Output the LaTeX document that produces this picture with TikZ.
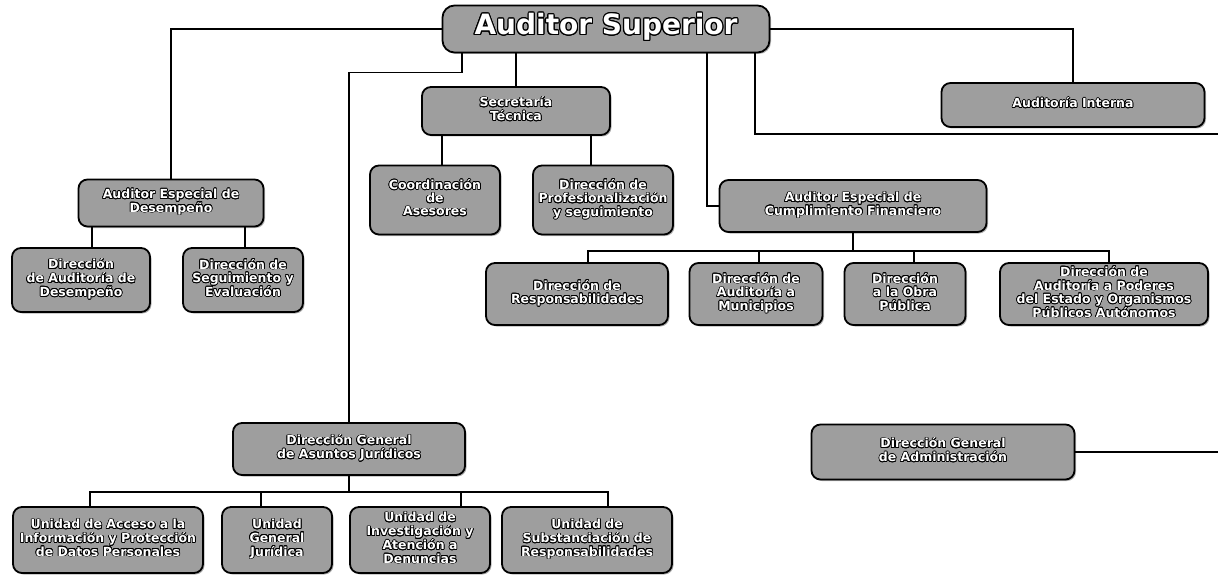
\documentclass[tikz,border=0pt]{standalone}
\usepackage{fontspec}
\setmainfont{DejaVu Sans}
\usepackage[copies]{contour}
\contourlength{0.7pt}
\usetikzlibrary{shadows}

\newcommand{\olabel}[1]{\contour{black}{\begin{tabular}{@{}c@{}}#1\end{tabular}}}

\begin{document}
\begin{tikzpicture}[
    x=1pt, y=-1pt,
    unit/.style={draw=black, line width=1.8pt, rounded corners=9pt, fill=black!38, text=white,
      font=\bfseries\fontsize{12.5}{13}\selectfont, inner sep=1pt,
      drop shadow={shadow xshift=1.5pt, shadow yshift=-1.5pt, opacity=0.6}},
    link/.style={line width=1.3pt}
]
\useasboundingbox (0,0) rectangle (1218,575);

% Top
\node[unit, minimum width=327, minimum height=47, rounded corners=12pt,
  font=\bfseries\fontsize{28}{30}\selectfont] at (606,29) (aud) {\contourlength{1.1pt}\olabel{Auditor Superior}};
\node[unit, minimum width=263, minimum height=44] at (1073,105) (interna) {\olabel{Auditoría Interna}};

% Secretaria
\node[unit, minimum width=188, minimum height=48] at (516,111) (sec) {\olabel{Secretaría\\Técnica}};
\node[unit, minimum width=130, minimum height=69] at (435,200) (coord) {\olabel{Coordinación\\de\\Asesores}};
\node[unit, minimum width=140, minimum height=69] at (603,200) (prof) {\olabel{Dirección de\\Profesionalización\\y seguimiento}};

% Desempeno
\node[unit, minimum width=185, minimum height=47] at (171,203) (desemp) {\olabel{Auditor Especial de\\Desempeño}};
\node[unit, minimum width=138, minimum height=64] at (81,280) (dad) {\olabel{Dirección\\de Auditoría de\\Desempeño}};
\node[unit, minimum width=120, minimum height=64] at (243,280) (dse) {\olabel{Dirección de\\Seguimiento y\\Evaluación}};

% Cumplimiento Financiero
\node[unit, minimum width=267, minimum height=52] at (853,206) (cumpl) {\olabel{Auditor Especial de\\Cumplimiento Financiero}};
\node[unit, minimum width=182, minimum height=62] at (577,294) (resp) {\olabel{Dirección de\\Responsabilidades}};
\node[unit, minimum width=133, minimum height=62] at (756,294) (muni) {\olabel{Dirección de\\Auditoría a\\Municipios}};
\node[unit, minimum width=121, minimum height=62] at (905,294) (obra) {\olabel{Dirección\\a la Obra\\Pública}};
\node[unit, minimum width=208, minimum height=62] at (1104,294) (poder) {\olabel{Dirección de\\Auditoría a Poderes\\del Estado y Organismos\\Públicos Autónomos}};

% Asuntos Juridicos
\node[unit, minimum width=232, minimum height=52] at (349,449) (jur) {\olabel{Dirección General\\de Asuntos Jurídicos}};
\node[unit, minimum width=190, minimum height=66] at (108,540) (acc) {\olabel{Unidad de Acceso a la\\Información y Protección\\de Datos Personales}};
\node[unit, minimum width=110, minimum height=66] at (277,540) (gen) {\olabel{Unidad\\General\\Jurídica}};
\node[unit, minimum width=140, minimum height=66] at (420,540) (inv) {\olabel{Unidad de\\Investigación y\\Atención a\\Denuncias}};
\node[unit, minimum width=170, minimum height=66] at (587,540) (sub) {\olabel{Unidad de\\Substanciación de\\Responsabilidades}};

% Administracion
\node[unit, minimum width=263, minimum height=55] at (943,452) (adm) {\olabel{Dirección General\\de Administración}};

% bus points and loose ends
\coordinate (cbus) at (853,251);
\coordinate (jbus) at (349,492);
\coordinate (east1) at (1218,134);
\coordinate (east2) at (1218,452);

% Lines from Auditor Superior
\draw[link] (aud.west) -| (desemp.north);
\draw[link] ([xshift=-144pt]aud.south) -- ++(0,19) -| (jur.north);
\draw[link] (sec.north |- aud.south) -- (sec.north);
\draw[link] ([xshift=101pt]aud.south) |- (cumpl.west);
\draw[link] ([xshift=149pt]aud.south) |- (east1);
\draw[link] (aud.east) -| (interna.north);

% Secretaria and Desempeno children
\foreach \n/\s in {coord/7, prof/-12}
  \draw[link] ([xshift=\s]\n.north) -- ([xshift=\s]\n.north |- sec.south);
\foreach \n/\s in {dad/11, dse/2}
  \draw[link] ([xshift=\s]\n.north) -- ([xshift=\s]\n.north |- desemp.south);

% Cumplimiento children
\draw[link] (cumpl.south) -- (cbus);
\foreach \n/\s in {resp/11, muni/3, obra/9, poder/5}
  \draw[link] ([xshift=\s]\n.north) |- (cbus);

% Juridicos children
\draw[link] (jur.south) -- (jbus);
\foreach \n/\s in {acc/-18, gen/-16, inv/41, sub/21}
  \draw[link] ([xshift=\s]\n.north) |- (jbus);

% Administracion
\draw[link] (adm.east) -- (east2);

\end{tikzpicture}
\end{document}
